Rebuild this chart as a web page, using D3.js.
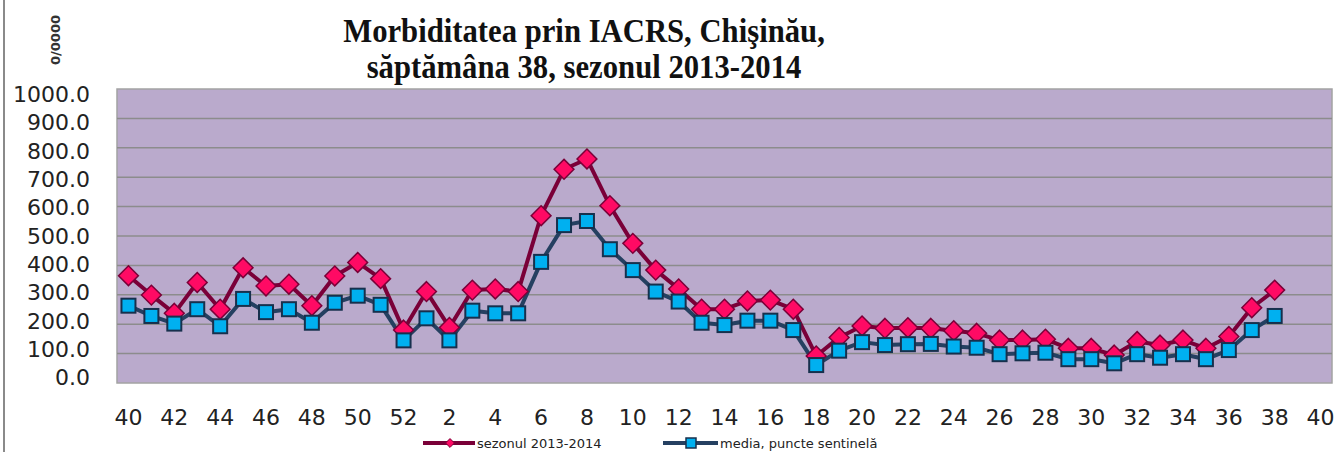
<!DOCTYPE html>
<html>
<head>
<meta charset="utf-8">
<script src="https://cdn.jsdelivr.net/npm/d3@7"></script>
<style>
  body { margin: 0; background: #fff; }
  svg { display: block; }
</style>
</head>
<body>
<div id="viz"></div>
<script>
// week labels: 40..52 of 2013, then 1..40 of 2014
const weeks = [40, 41, 42, 43, 44, 45, 46, 47, 48, 49, 50, 51, 52,
  1, 2, 3, 4, 5, 6, 7, 8, 9, 10, 11, 12, 13, 14, 15, 16, 17, 18, 19, 20,
  21, 22, 23, 24, 25, 26, 27, 28, 29, 30, 31, 32, 33, 34, 35, 36, 37, 38, 39, 40];

const sezon = [365, 299, 237, 342, 251, 392, 330, 336, 263, 364, 410, 355, 180,
  311, 189, 316, 320, 311, 569, 727, 762, 603, 475, 384, 320, 251, 251, 279, 282, 251,
  92, 155, 194, 186, 188, 186, 178, 169, 146, 146, 149, 118, 118, 95, 141, 129, 146,
  118, 158, 256, 316];

const media = [263, 228, 202, 251, 193, 286, 241, 251, 205, 273, 297, 266, 145,
  220, 145, 246, 237, 237, 412, 537, 551, 455, 384, 311, 277, 205, 197, 212, 212, 180,
  61, 110, 139, 129, 132, 133, 124, 120, 98, 101, 103, 81, 81, 67, 98, 86, 98,
  81, 112, 180, 228];

const yTicks = [0, 100, 200, 300, 400, 500, 600, 700, 800, 900, 1000];

const seriesNames = ["sezonul 2013-2014", "media, puncte sentinelă"];

const W = 1340, H = 452;
const plot = { left: 117, right: 1332, top: 89, bottom: 383 };

const svg = d3.select("#viz").append("svg")
  .attr("width", W)
  .attr("height", H);

svg.append("rect").attr("width", W).attr("height", H).attr("fill", "#fff");

// left frame line of the chart object
svg.append("line")
  .attr("x1", 4).attr("x2", 4)
  .attr("y1", 0).attr("y2", H)
  .attr("stroke", "#8a8a8a")
  .attr("stroke-width", 2);

const x = d3.scaleBand()
  .domain(d3.range(weeks.length))
  .range([plot.left, plot.right])
  .padding(0);

const y = d3.scaleLinear()
  .domain([0, 1000])
  .range([plot.bottom, plot.top]);

// labels sit a bit inside the gridlines in the original
const yLab = d3.scaleLinear()
  .domain([0, 1000])
  .range([377.5, 94]);

const cx = i => x(i) + x.bandwidth() / 2;

// plot area
svg.append("rect")
  .attr("x", plot.left)
  .attr("y", plot.top)
  .attr("width", plot.right - plot.left)
  .attr("height", plot.bottom - plot.top)
  .attr("fill", "#baaacc")
  .attr("stroke", "#a3a3a3")
  .attr("stroke-width", 1.5);

// gridlines
svg.append("g")
  .selectAll("line")
  .data(yTicks.filter(d => d > 0 && d < 1000))
  .enter()
  .append("line")
  .attr("x1", plot.left)
  .attr("x2", plot.right)
  .attr("y1", d => y(d))
  .attr("y2", d => y(d))
  .attr("stroke", "#8c8c8c")
  .attr("stroke-width", 1.5);

// y tick labels
svg.append("g")
  .selectAll("text")
  .data(yTicks)
  .enter()
  .append("text")
  .attr("x", 90)
  .attr("y", d => yLab(d))
  .attr("dy", "0.36em")
  .attr("text-anchor", "end")
  .attr("font-family", "DejaVu Sans, sans-serif")
  .attr("font-size", 22)
  .attr("fill", "#222")
  .text(d => d3.format(".1f")(d));

// x axis labels, every other week
const xAxis = d3.axisBottom(x)
  .tickValues(d3.range(0, weeks.length, 2))
  .tickFormat(i => weeks[i])
  .tickSize(0)
  .tickPadding(0);

const gx = svg.append("g")
  .attr("transform", `translate(0,${plot.bottom})`)
  .call(xAxis);
gx.select(".domain").remove();
gx.selectAll("text")
  .attr("y", 42)
  .attr("dy", 0)
  .attr("font-family", "DejaVu Sans, sans-serif")
  .attr("font-size", 22)
  .attr("fill", "#222");

// y axis unit label
svg.append("text")
  .attr("transform", "translate(60,40) rotate(-90)")
  .attr("text-anchor", "middle")
  .attr("font-family", "DejaVu Sans, sans-serif")
  .attr("font-size", 13)
  .attr("font-weight", "bold")
  .attr("fill", "#333")
  .text("0/0000");

// title (a little condensed, like the original)
const title = svg.append("text")
  .attr("transform", "translate(584,0) scale(0.93,1)")
  .attr("text-anchor", "middle")
  .attr("font-family", "Liberation Serif, Times New Roman, serif")
  .attr("font-size", 33)
  .attr("font-weight", "bold")
  .attr("fill", "#111");
title.append("tspan").attr("x", 0).attr("y", 42).text("Morbiditatea prin IACRS, Chişinău,");
title.append("tspan").attr("x", 0).attr("y", 78).text("săptămâna 38, sezonul 2013-2014");

const line = d3.line()
  .x((d, i) => cx(i))
  .y(d => y(d));

const diamond = d3.symbol().type(d3.symbolDiamond2);

// media series (drawn first, beneath)
svg.append("path")
  .datum(media)
  .attr("d", line)
  .attr("fill", "none")
  .attr("stroke", "#254061")
  .attr("stroke-width", 4)
  .attr("stroke-linejoin", "round");

// sezon series
svg.append("path")
  .datum(sezon)
  .attr("d", line)
  .attr("fill", "none")
  .attr("stroke", "#7a0038")
  .attr("stroke-width", 4)
  .attr("stroke-linejoin", "round");

svg.append("g")
  .selectAll("path")
  .data(sezon)
  .enter()
  .append("path")
  .attr("transform", (d, i) => `translate(${cx(i)},${y(d)})`)
  .attr("d", diamond.size(250))
  .attr("fill", "#ff0a64")
  .attr("stroke", "#7a0038")
  .attr("stroke-width", 1.5);

svg.append("g")
  .selectAll("rect")
  .data(media)
  .enter()
  .append("rect")
  .attr("x", (d, i) => cx(i) - 7)
  .attr("y", d => y(d) - 7)
  .attr("width", 14)
  .attr("height", 14)
  .attr("fill", "#00b0f0")
  .attr("stroke", "#17304d")
  .attr("stroke-width", 2);

// legend
const legend = svg.append("g").attr("font-family", "DejaVu Sans, sans-serif").attr("font-size", 13);

const lg1 = legend.append("g").attr("transform", "translate(423,443)");
lg1.append("line").attr("x1", 0).attr("x2", 52).attr("stroke", "#7a0038").attr("stroke-width", 4);
lg1.append("path").attr("transform", "translate(27,0)").attr("d", diamond.size(50))
  .attr("fill", "#ff0a64").attr("stroke", "#7a0038").attr("stroke-width", 1);
lg1.append("text").attr("x", 54).attr("dy", "0.35em").attr("fill", "#222").text(seriesNames[0]);

const lg2 = legend.append("g").attr("transform", "translate(663,443)");
lg2.append("line").attr("x1", 0).attr("x2", 55).attr("stroke", "#254061").attr("stroke-width", 4);
lg2.append("rect").attr("x", 23).attr("y", -5).attr("width", 10).attr("height", 10)
  .attr("fill", "#00b0f0").attr("stroke", "#17304d").attr("stroke-width", 1.5);
lg2.append("text").attr("x", 57).attr("dy", "0.35em").attr("fill", "#222").text(seriesNames[1]);
</script>
</body>
</html>
